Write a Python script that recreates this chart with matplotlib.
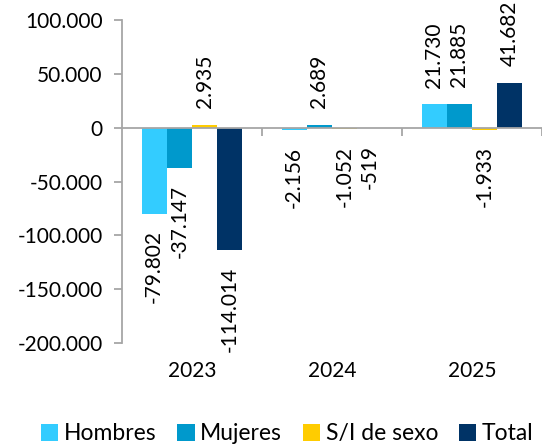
import numpy as np
import matplotlib.pyplot as plt
from matplotlib.transforms import blended_transform_factory

plt.rcParams['font.family'] = ['Lato', 'DejaVu Sans']

years = ['2023', '2024', '2025']
series = ['Hombres', 'Mujeres', 'S/I de sexo', 'Total']
hombres = [-79802, -2156, 21730]
mujeres = [-37147, 2689, 21885]
sin_info = [2935, -1052, -1933]
total = [-114014, -519, 41682]
colors = ['#33CCFF', '#0099CC', '#FFCC00', '#003366']

values = [hombres, mujeres, sin_info, total]


def fmt(v):
    return f"{v:,.0f}".replace(",", ".")


fig = plt.figure(figsize=(5.42, 4.45), dpi=100)
ax = fig.add_axes([0.225, 0.229, 0.775, 0.726])

x = np.arange(len(years))
w = 0.18
for i, (name, vals, c) in enumerate(zip(series, values, colors)):
    pos = x + (i - 1.5) * w
    ax.bar(pos, vals, width=w, color=c, label=name)
    for xp, v in zip(pos, vals):
        off = 12 if v >= 0 else -12
        ax.annotate(fmt(v), (xp, v), xytext=(0, off), textcoords='offset points',
                    rotation=90, ha='center', va='bottom' if v >= 0 else 'top',
                    fontsize=15, color='#000000')

ax.set_xlim(-0.5, 2.5)
ax.set_ylim(-200000, 100000)
ax.set_yticks(np.arange(-200000, 100001, 50000))
ax.set_yticklabels([fmt(t) for t in np.arange(-200000, 100001, 50000)])

gray = '#A6A6A6'
for s in ['top', 'right']:
    ax.spines[s].set_visible(False)
ax.spines['left'].set_color(gray)
ax.spines['left'].set_linewidth(1.3)
ax.spines['bottom'].set_position(('data', 0))
ax.spines['bottom'].set_color(gray)
ax.spines['bottom'].set_linewidth(1.3)

ax.set_xticks([0.5, 1.5, 2.5])
ax.set_xticklabels([])
ax.tick_params(axis='x', direction='out', length=6, color=gray, width=1.3)
ax.tick_params(axis='y', direction='out', length=6, color=gray, width=1.3,
               labelsize=15, pad=8)

tr = blended_transform_factory(ax.transData, ax.transAxes)
for xi, yr in zip(x, years):
    ax.text(xi, -0.055, yr, transform=tr, ha='center', va='top', fontsize=15)

fig.legend(loc='lower center', bbox_to_anchor=(0.53, -0.045), ncol=4, frameon=False,
           fontsize=16.5, handlelength=0.75, handleheight=0.75, handletextpad=0.25,
           columnspacing=0.9)

fig.savefig('out.png', dpi=100)
